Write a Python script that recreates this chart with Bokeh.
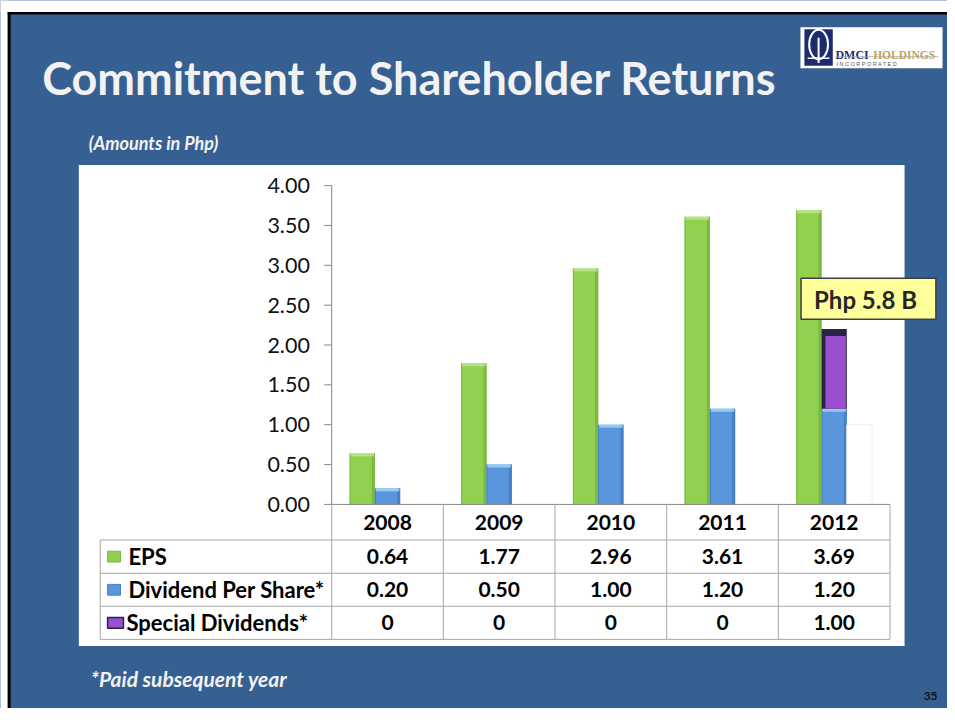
import numpy as np
from bokeh.plotting import figure
from bokeh.models import Range1d
from bokeh.core.properties import value
from bokeh.embed import file_html
from bokeh.resources import INLINE

# ---------------- data ----------------
years = ["2008", "2009", "2010", "2011", "2012"]
eps = [0.64, 1.77, 2.96, 3.61, 3.69]
dps = [0.20, 0.50, 1.00, 1.20, 1.20]
special = [0.0, 0.0, 0.0, 0.0, 1.00]
series_names = ["EPS", "Dividend Per Share*", "Special Dividends*"]
y_ticks = [0.0, 0.5, 1.0, 1.5, 2.0, 2.5, 3.0, 3.5, 4.0]
title_text = "Commitment to Shareholder Returns"
subtitle_text = "(Amounts in Php)"
footnote_text = "*Paid subsequent year"
callout_text = "Php  5.8 B"
page_no = "35"

# ---------------- layout / style ----------------
W, H = 947, 708            # canvas size (fits the window)
REF_W, REF_H = 955, 724    # slide coordinate system
BG = "#376092"
FONT = value("Lato")
GREEN, GREEN_L, GREEN_D = "#92d050", "#b4e384", "#7ab83f"
BLUE, BLUE_L, BLUE_D = "#5b96dc", "#96c9f3", "#4580c8"
PURPLE, PURPLE_D = "#9a4fd0", "#2a2348"
GRID = "#a6a6a6"
AXIS = "#868686"

AX_X0, AX_X1 = 334.0, 897.0      # category span (table year columns)
Y0_PX, Y4_PX = 515.3, 189.3      # slide rows of 0.00 and 4.00
col_w = (AX_X1 - AX_X0) / len(years)
c0 = AX_X0 + col_w / 2
ppu = (Y0_PX - Y4_PX) / 4.0

p = figure(width=W, height=H,
           x_range=Range1d(0, REF_W), y_range=Range1d(REF_H, 0),
           x_axis_type=None, y_axis_type=None, toolbar_location=None,
           output_backend="svg", min_border=0, outline_line_color=None,
           background_fill_color=BG, border_fill_color=BG)
p.extra_x_ranges = {"cat": Range1d((0 - c0) / col_w, (REF_W - c0) / col_w)}
p.extra_y_ranges = {"val": Range1d((Y0_PX - REF_H) / ppu, Y0_PX / ppu)}

# slide frame
p.quad(left=[0], right=[REF_W], top=[0], bottom=[11.7], fill_color="white", line_color=None)
p.quad(left=[0], right=[7.3], top=[0], bottom=[REF_H], fill_color="white", line_color=None)
p.quad(left=[7.3], right=[REF_W], top=[11.7], bottom=[14.3], fill_color="black", line_color=None)
p.quad(left=[7.3], right=[10.2], top=[11.7], bottom=[REF_H], fill_color="black", line_color=None)

# title + subtitle
p.text(x=[42], y=[79], text=[title_text], text_font=FONT, text_font_style="bold",
       text_font_size="45px", text_color="#f2f2f2", text_baseline="alphabetic")
p.text(x=[89], y=[146], text=[subtitle_text], text_font=FONT, text_font_style="bold italic",
       text_font_size="18px", text_color="#f2f2f2", text_baseline="alphabetic")

# logo
p.quad(left=[806.7], right=[950], top=[27.3], bottom=[69.3], fill_color="white", line_color=None)
p.quad(left=[810.7], right=[839.3], top=[29.3], bottom=[66.7], fill_color="#1d2b70", line_color=None)
p.ellipse(x=[825], y=[45], width=[19], height=[30], fill_color=None, line_color="white", line_width=2)
p.segment(x0=[825], y0=[38], x1=[825], y1=[64], line_color="white", line_width=2)
p.segment(x0=[814], y0=[59], x1=[836], y1=[59], line_color="white", line_width=1.5)
p.text(x=[842], y=[56], text=["DMCI"], text_font=value("Liberation Serif"), text_font_style="bold",
       text_font_size="12px", text_color="#1d2b70", text_baseline="alphabetic")
p.text(x=[880], y=[56], text=["HOLDINGS"], text_font=value("Liberation Serif"), text_font_style="bold",
       text_font_size="11.5px", text_color="#c9a44c", text_baseline="alphabetic")
p.segment(x0=[842], y0=[57.5], x1=[946], y1=[57.5], line_color="#9aa0b8", line_width=0.8)
p.text(x=[843], y=[65], text=["I  N  C  O  R  P  O  R  A  T  E  D"], text_font=value("Liberation Sans"),
       text_font_size="5.5px", text_color="#555566", text_baseline="alphabetic")

# white chart panel
p.quad(left=[79], right=[911.7], top=[168.3], bottom=[660], fill_color="white", line_color=None)

# ---------------- bars ----------------
idx = np.arange(len(years), dtype=float)
bw = 25.5 / col_w
eps_a, dps_a, sp_a = np.array(eps), np.array(dps), np.array(special)
cap = 3.0 / ppu
edge = 3.0 / col_w
kw = dict(x_range_name="cat", y_range_name="val")

# EPS
p.vbar(x=idx - bw, width=bw, top=eps_a, bottom=0, fill_color=GREEN, line_color=None, **kw)
p.vbar(x=idx - bw + bw / 2 - edge / 2, width=edge, top=eps_a, bottom=0, fill_color=GREEN_D, line_color=None, **kw)
p.vbar(x=idx - bw - bw / 2 + 0.5 / col_w, width=1.0 / col_w, top=eps_a, bottom=0, fill_color=GREEN_D, line_color=None, **kw)
p.vbar(x=idx - bw, width=bw - 2.0 / col_w, top=eps_a, bottom=eps_a - cap, fill_color=GREEN_L, line_color=None, **kw)
# Dividend per share
p.vbar(x=idx, width=bw, top=dps_a, bottom=0, fill_color=BLUE, line_color=None, **kw)
p.vbar(x=idx + bw / 2 - edge / 2, width=edge, top=dps_a, bottom=0, fill_color=BLUE_D, line_color=None, **kw)
p.vbar(x=idx - bw / 2 + 0.5 / col_w, width=1.0 / col_w, top=dps_a, bottom=0, fill_color=BLUE_D, line_color=None, **kw)
p.vbar(x=idx, width=bw - 2.0 / col_w, top=dps_a, bottom=dps_a - cap, fill_color=BLUE_L, line_color=None, **kw)
# Special dividends (third series slot, drawn blank) + stacked overlay
m = sp_a > 0
p.vbar(x=idx[m] + bw, width=bw, top=sp_a[m], bottom=0, fill_color="white", line_color="#f0f0f0", line_width=1, **kw)
p.vbar(x=idx[m], width=bw, top=dps_a[m] + sp_a[m], bottom=dps_a[m], fill_color=PURPLE_D, line_color=None, **kw)
p.vbar(x=idx[m] + 1.5 / col_w, width=bw - 5.0 / col_w, top=dps_a[m] + sp_a[m] - 7.0 / ppu,
       bottom=dps_a[m], fill_color=PURPLE, line_color=None, **kw)

# ---------------- axes ----------------
p.segment(x0=[-0.5], x1=[-0.5], y0=[0], y1=[y_ticks[-1]], line_color=AXIS, line_width=1, **kw)
p.segment(x0=[-0.5 - 7.5 / col_w] * len(y_ticks), x1=[-0.5] * len(y_ticks), y0=y_ticks, y1=y_ticks,
          line_color=AXIS, line_width=1, **kw)
p.text(x=[-0.5 - 22.0 / col_w] * len(y_ticks), y=y_ticks, text=[f"{t:.2f}" for t in y_ticks],
       text_font=FONT, text_font_size="21.5px", text_color="#111111", text_align="right",
       text_baseline="middle", **kw)

# ---------------- data table ----------------
row_edges = [Y0_PX, 551.7, 585.7, 619.5, 653.3]
tab_left = 100.5
# category axis / table top
p.segment(x0=[-0.5], x1=[len(years) - 0.5], y0=[0], y1=[0], line_color=AXIS, line_width=1, **kw)
# vertical lines in year columns
vx = np.arange(len(years) + 1) - 0.5
p.segment(x0=vx, x1=vx, y0=[row_edges[0]] * len(vx), y1=[row_edges[-1]] * len(vx),
          line_color=GRID, line_width=1, x_range_name="cat")
# label column left edge
p.segment(x0=[tab_left], x1=[tab_left], y0=[row_edges[1]], y1=[row_edges[-1]], line_color=GRID, line_width=1)
# horizontal lines
hy = row_edges[1:]
p.segment(x0=[tab_left] * len(hy), x1=[AX_X1] * len(hy), y0=hy, y1=hy, line_color=GRID, line_width=1)

centers = [(a + b) / 2 for a, b in zip(row_edges[:-1], row_edges[1:])]
tkw = dict(text_font=FONT, text_font_style="bold", text_font_size="21px", text_color="black",
           text_align="center", text_baseline="middle", x_range_name="cat")
p.text(x=idx, y=[centers[0]] * len(years), text=years, **tkw)
fmt = lambda v: "0" if v == 0 else f"{v:.2f}"
for r, vals in enumerate([eps, dps, special]):
    p.text(x=idx, y=[centers[r + 1]] * len(years), text=[fmt(v) for v in vals], **tkw)

# row labels + legend keys
lab_x = [129, 129, 127]
key_fill = [GREEN, BLUE, PURPLE]
key_line = [GREEN_D, BLUE_D, PURPLE_D]
for r, name in enumerate(series_names):
    cy = centers[r + 1]
    kwid = 13 if r < 2 else 16
    p.quad(left=[108], right=[108 + kwid], top=[cy - 5.5], bottom=[cy + 5.5],
           fill_color=key_fill[r], line_color=key_line[r], line_width=1.5 if r == 2 else 1)
    p.text(x=[lab_x[r]], y=[cy], text=[name], text_font=FONT, text_font_style="bold",
           text_font_size="22px", text_color="black", text_baseline="middle")

# ---------------- callout ----------------
p.quad(left=[807.3], right=[943.3], top=[284], bottom=[326], fill_color="#ffff99",
       line_color="#3f3f3f", line_width=1.5)
p.text(x=[875.3], y=[305.5], text=[callout_text], text_font=FONT, text_font_style="bold",
       text_font_size="24px", text_color="#262626", text_align="center", text_baseline="middle")

# ---------------- footer ----------------
p.text(x=[91], y=[693], text=[footnote_text], text_font=FONT, text_font_style="bold italic",
       text_font_size="21px", text_color="#f2f2f2", text_baseline="alphabetic")
p.text(x=[945], y=[711.5], text=[page_no], text_font=FONT, text_font_style="bold",
       text_font_size="12px", text_color="#111111", text_align="right", text_baseline="middle")

open("out.html", "w").write(file_html(p, INLINE))
